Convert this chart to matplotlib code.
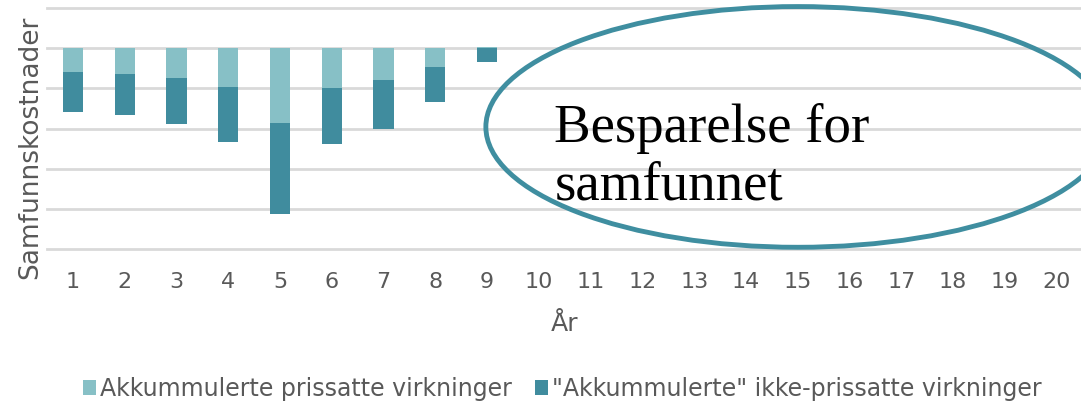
import numpy as np
import matplotlib
matplotlib.use('Agg')
import matplotlib.pyplot as plt
from matplotlib.patches import Ellipse

# Years on the x axis
years = list(range(1, 21))
# Accumulated priced effects (light) and "accumulated" non-priced effects (dark)
prissatte = [-0.60, -0.63, -0.75, -0.97, -1.87, -1.00, -0.80, -0.46, 0.04] + [0] * 11
ikke_prissatte = [-1.00, -1.03, -1.14, -1.36, -2.27, -1.39, -1.20, -0.87, -0.35] + [0] * 11

light = '#87c0c6'
dark = '#408c9e'
grey = '#595959'

plt.rcParams['font.family'] = 'DejaVu Sans'

fig = plt.figure(figsize=(10.81, 4.08), dpi=100)
ax = fig.add_axes([0.0435, 0.39, 0.958, 0.59])

x = np.array(years)
p = np.array(prissatte)
bottom_dark = np.minimum(p, 0)
ax.bar(x, p, width=0.39, color=light, label='Akkummulerte prissatte virkninger', zorder=3)
ax.bar(x, ikke_prissatte, width=0.39, bottom=bottom_dark, color=dark,
       label='"Akkummulerte" ikke-prissatte virkninger', zorder=3)

ax.set_xlim(0.5, 20.5)
ax.set_ylim(-5, 1)
ax.set_yticks(np.arange(-5, 2, 1))
ax.set_yticklabels([])
ax.tick_params(axis='y', length=0)
ax.set_xticks(years)
ax.tick_params(axis='x', length=0, labelsize=16, labelcolor=grey, pad=17)
ax.grid(axis='y', color='#d9d9d9', linewidth=2, zorder=0)
for line in ax.get_ygridlines():
    line.set_clip_on(False)
for s in ax.spines.values():
    s.set_visible(False)

ax.set_ylabel('Samfunnskostnader', fontsize=19, color=grey)
ax.yaxis.set_label_coords(-0.004, 0.42)
ax.set_xlabel('År', fontsize=18, color=grey, labelpad=14)

# Ellipse annotation
ell = Ellipse((15, -1.96), 12.05, 6.0, fill=False, edgecolor='#3f8ea0', linewidth=3.5,
              clip_on=False, zorder=4)
ax.add_patch(ell)
ax.text(10.3, -3.78, 'Besparelse for\nsamfunnet', fontsize=39.5, family='Liberation Serif',
        color='black', va='baseline', ha='left', linespacing=1.19, zorder=5)

fig.legend(loc='center', bbox_to_anchor=(0.52, 0.047), ncol=2, frameon=False,
           fontsize=17, labelcolor=grey, handlelength=0.55, handleheight=0.55,
           handletextpad=0.15, columnspacing=1.0)

fig.savefig('out.png', dpi=100)
